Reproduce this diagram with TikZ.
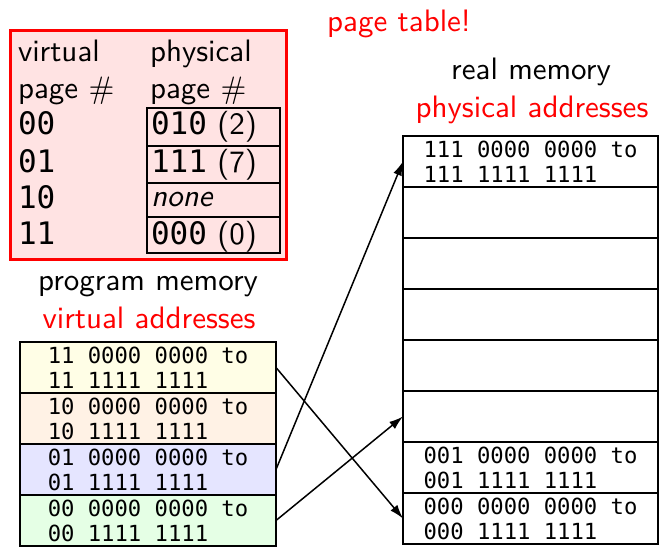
\documentclass[tikz,border=0pt]{standalone}
\usepackage{fontspec}
\setsansfont{lmsans10}[Extension=.otf, UprightFont=*-regular, ItalicFont=*-oblique, BoldFont=*-bold]
\renewcommand\familydefault{\sfdefault}
\newfontfamily\monofont{DejaVu Sans Mono}
\usetikzlibrary{arrows.meta}

\tikzset{
  big/.style={font=\fontsize{31}{37}\selectfont, inner sep=0pt, outer sep=0pt},
  caption/.style={big, anchor=base},
  ptcell/.style={big, anchor=base west},
  entrybox/.style={draw=black, line width=1.5pt, minimum width=133pt, inner sep=0pt, outer sep=0pt},
  memrow/.style={draw=black, line width=1.5pt, minimum width=256pt, minimum height=51pt,
    inner sep=0pt, outer sep=0pt, align=left, font=\monofont\fontsize{22.2}{25}\selectfont},
  link/.style={line width=1.5pt, -{Latex[length=14pt,width=9pt]}},
}

\begin{document}
\begin{tikzpicture}[x=1pt,y=-1pt]
\useasboundingbox (0,0) rectangle (666,548);

% page table
\node[draw=red, fill=red!11, line width=3pt, minimum width=276pt, minimum height=228pt,
      inner sep=0pt] (ptable) at (148.5,145) {};
\node[entrybox, minimum height=38pt] (e00) at (213.5,127) {};
\node[entrybox, minimum height=37pt] (e01) at (213.5,164.5) {};
\node[entrybox, minimum height=34pt] (e10) at (213.5,200) {};
\node[entrybox, minimum height=36pt] (e11) at (213.5,235) {};

\node[ptcell] (hv1) at (18,62) {virtual};
\node[ptcell] (hv2) at (18,98.5) {page \#};
\node[ptcell] (hp1) at (150,62) {physical};
\node[ptcell] (hp2) at (150,98.5) {page \#};
\node[ptcell] (v00) at (18,135) {\monofont 00};
\node[ptcell] (v01) at (18,172) {\monofont 01};
\node[ptcell] (v10) at (18,208) {\monofont 10};
\node[ptcell] (v11) at (18,244.5) {\monofont 11};
\node[ptcell] (p00) at (151,135) {\monofont 010\normalfont{} (2)};
\node[ptcell] (p01) at (151,172) {\monofont 111\normalfont{} (7)};
\node[ptcell] (p10) at (151,207) {\itshape none};
\node[ptcell] (p11) at (151,244.5) {\monofont 000\normalfont{} (0)};

% captions
\node[caption, text=red] (ptt) at (399,32) {page table!};
\node[caption] (rmt) at (531,80) {real memory};
\node[caption, text=red] (rma) at (532,118) {physical addresses};
\node[caption] (pmt) at (148,290) {program memory};
\node[caption, text=red] (pma) at (149,328) {virtual addresses};

% program memory (virtual pages)
\node[memrow, fill=yellow!10] (v3) at (148,367.5) {11 0000 0000 to\\11 1111 1111};
\node[memrow, fill=orange!10] (v2) at (148,418.5) {10 0000 0000 to\\10 1111 1111};
\node[memrow, fill=blue!10]   (v1) at (148,469.5) {01 0000 0000 to\\01 1111 1111};
\node[memrow, fill=green!10]  (v0) at (148,520.5) {00 0000 0000 to\\00 1111 1111};

% real memory (physical pages)
\node[memrow, minimum width=255pt] (r7) at (530.5,161.5) {111 0000 0000 to\\111 1111 1111};
\node[memrow, minimum width=255pt] (r6) at (530.5,212.5) {};
\node[memrow, minimum width=255pt] (r5) at (530.5,263.5) {};
\node[memrow, minimum width=255pt] (r4) at (530.5,314.5) {};
\node[memrow, minimum width=255pt] (r3) at (530.5,365.5) {};
\node[memrow, minimum width=255pt] (r2) at (530.5,416.5) {};
\node[memrow, minimum width=255pt] (r1) at (530.5,467.5) {001 0000 0000 to\\001 1111 1111};
\node[memrow, minimum width=255pt] (r0) at (530.5,518.5) {000 0000 0000 to\\000 1111 1111};

% translations
\draw[link] (v3.east) -- (r0.west);
\draw[link] (v1.east) -- (r7.west);
\draw[link] (v0.east) -- (r2.west);
\end{tikzpicture}
\end{document}
